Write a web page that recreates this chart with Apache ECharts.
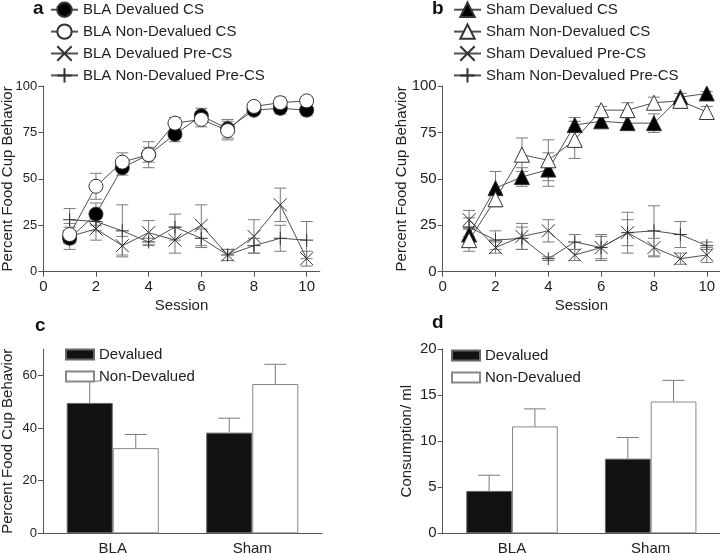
<!DOCTYPE html>
<html><head><meta charset="utf-8">
<script src="https://cdn.jsdelivr.net/npm/echarts@6/dist/echarts.min.js"></script>
<style>html,body{margin:0;padding:0;background:#fff}#c{width:720px;height:553px}</style>
</head><body><div id="c"></div>
<script>
// ---------- data ----------
const sessions = [1,2,3,4,5,6,7,8,9,10];
const sessionTicks = [0,2,4,6,8,10];
const pctTicks = [0,25,50,75,100];

const blaDevCS        = [18, 31, 56, 63, 74, 84, 77, 87, 88, 87];
const blaDevCSErr     = [3, 6, 4, 4, 4, 4, 5, 2, 3, 3];
const blaNonDevCS     = [20, 46, 59, 63, 80, 82, 76, 89, 91, 92];
const blaNonDevCSErr  = [4, 7, 5, 7, 3, 4, 5, 2, 3, 2];
const blaDevPre       = [19, 23, 14, 21, 17, 25, 9, 19, 36, 7];
const blaDevPreErr    = [7, 6, 5, 6.5, 7, 11, 3, 9, 9, 4];
const blaNonDevPre    = [28, 27, 22, 16, 24, 18, 9, 14, 18, 17];
const blaNonDevPreErr = [6, 5, 14, 2, 7, 5, 3, 4, 7, 10];

const shamDevCS        = [20, 45, 51, 55, 79, 81, 80, 80, 94, 96];
const shamDevCSErr     = [4, 9, 5, 9, 4, 2, 3, 5, 2, 1];
const shamNonDevCS     = [17, 39, 63, 60, 71, 87, 87, 91, 92, 86];
const shamNonDevCSErr  = [6, 4, 9, 11, 10, 2, 4, 3, 4, 3];
const shamDevPre       = [28, 13, 19, 22, 9, 13, 21, 13, 7, 9];
const shamDevPreErr    = [5, 3, 7, 6, 3, 7, 11, 5, 3, 4];
const shamNonDevPre    = [24, 17, 18, 7, 16, 13, 21, 22, 20, 14];
const shamNonDevPreErr = [5, 5, 6, 1, 4, 6, 7, 13.5, 7, 2];

const groups = ['BLA', 'Sham'];
const foodDev = [49.6, 38.3];
const foodDevErr = [8.3, 5.5];
const foodNonDev = [32.4, 56.8];
const foodNonDevErr = [5.2, 7.5];
const consDev = [4.6, 8.1];
const consDevErr = [1.7, 2.3];
const consNonDev = [11.6, 14.3];
const consNonDevErr = [1.9, 2.3];
const foodTicks = [0,20,40,60];
const consTicks = [0,5,10,15,20];

// ---------- styles ----------
const FONT = '"Liberation Sans", Arial, sans-serif';
// narrow font for the squeezed tick labels of panels a and c (fallback: smaller regular font)
let NARROW = FONT, NARROW_SIZE = 13;
(function () {
  const cv = document.createElement('canvas').getContext('2d');
  cv.font = '15px "Liberation Sans Narrow", monospace';
  const wn = cv.measureText('100').width;
  cv.font = '15px monospace';
  const wm = cv.measureText('100').width;
  if (Math.abs(wn - wm) > 0.5) { NARROW = '"Liberation Sans Narrow", ' + FONT; NARROW_SIZE = 15; }
})();
const AX = '#555';
const TXT = '#222';
const ERR = '#7a7a7a';
const SYM_X = 'path://M0,0L10,10M10,0L0,10';
const SYM_P = 'path://M5,0L5,10M0,5L10,5';

function lineSeries(name, g, vals, symbol, fill, size) {
  return {
    name, type: 'line', xAxisIndex: g, yAxisIndex: g,
    data: sessions.map((s, i) => [s, vals[i]]),
    symbol, symbolSize: size, showAllSymbol: true,
    lineStyle: { color: '#505050', width: 1 },
    itemStyle: { color: fill, borderColor: '#333', borderWidth: 1 },
    emphasis: { disabled: true }, animation: false, z: 5
  };
}
function errSeries(g, vals, errs) {
  return {
    type: 'custom', xAxisIndex: g, yAxisIndex: g, silent: true, animation: false, z: 2,
    data: sessions.map((s, i) => [s, vals[i], errs[i]]),
    renderItem: function (p, api) {
      const x = api.value(0), y = api.value(1), e = api.value(2);
      const t = api.coord([x, y + e]), b = api.coord([x, y - e]);
      const w = 6;
      const st = { stroke: ERR, lineWidth: 1, fill: null };
      return { type: 'group', children: [
        { type: 'line', shape: { x1: t[0], y1: t[1], x2: b[0], y2: b[1] }, style: st },
        { type: 'line', shape: { x1: t[0]-w, y1: t[1], x2: t[0]+w, y2: t[1] }, style: st },
        { type: 'line', shape: { x1: b[0]-w, y1: b[1], x2: b[0]+w, y2: b[1] }, style: st }
      ]};
    }
  };
}
function barSeries(name, g, vals, fill, border) {
  return {
    name, type: 'bar', xAxisIndex: g, yAxisIndex: g, data: vals,
    barWidth: '33%', barGap: '0%',
    itemStyle: { color: fill, borderColor: border, borderWidth: 1 },
    emphasis: { disabled: true }, animation: false, z: 3
  };
}
function barErr(g, vals, errs, side) {
  return {
    type: 'custom', xAxisIndex: g, yAxisIndex: g, silent: true, animation: false, z: 2,
    data: vals.map((v, i) => [i, v, errs[i]]),
    renderItem: function (p, api) {
      const i = api.value(0), y = api.value(1), e = api.value(2);
      const bw = api.size([1, 0])[0];
      const off = side * bw * 0.33 / 2;
      const b = api.coord([i, y]), t = api.coord([i, y + e]);
      const x = b[0] + off, w = 11;
      const st = { stroke: ERR, lineWidth: 1, fill: null };
      return { type: 'group', children: [
        { type: 'line', shape: { x1: x, y1: b[1], x2: x, y2: t[1] }, style: st },
        { type: 'line', shape: { x1: x-w, y1: t[1], x2: x+w, y2: t[1] }, style: st }
      ]};
    }
  };
}

const axisCommon = {
  axisLine: { show: true, lineStyle: { color: AX, width: 1 } },
  splitLine: { show: false },
  nameMoveOverlap: false,
  nameTextStyle: { fontFamily: FONT, fontSize: 15, color: TXT }
};
function valX(g, name) {
  return Object.assign({}, axisCommon, {
    type: 'value', gridIndex: g, min: 0, max: 10.5, name, nameLocation: 'middle', nameGap: 27,
    axisTick: { show: true, length: 5, lineStyle: { color: AX }, customValues: sessionTicks },
    axisLabel: { fontFamily: FONT, fontSize: 15, color: TXT, margin: 8, customValues: sessionTicks }
  });
}
function valY(g, max, ticks, name, gap, font, size) {
  return Object.assign({}, axisCommon, {
    type: 'value', gridIndex: g, min: 0, max, name, nameLocation: 'middle', nameGap: gap,
    axisTick: { show: true, length: 5, lineStyle: { color: AX }, customValues: ticks },
    axisLabel: { fontFamily: font, fontSize: size, color: TXT, margin: 6, customValues: ticks }
  });
}
function catX(g) {
  return Object.assign({}, axisCommon, {
    type: 'category', gridIndex: g, data: groups,
    axisTick: { show: false },
    axisLabel: { fontFamily: FONT, fontSize: 15, color: TXT, margin: 8 }
  });
}
function lineLegend(left, names) {
  return {
    data: names, orient: 'vertical', left, top: 1.5, padding: 0,
    itemWidth: 27, itemHeight: 18, itemGap: 5.5, selectedMode: false,
    textStyle: { fontFamily: FONT, fontSize: 15, color: TXT }
  };
}
function barLegend(left, top) {
  return {
    data: ['Devalued', 'Non-Devalued'], orient: 'vertical', left, top, padding: 0,
    icon: 'rect', itemWidth: 28, itemHeight: 10, itemGap: 7, selectedMode: false,
    textStyle: { fontFamily: FONT, fontSize: 15, color: TXT }
  };
}
function panelLabel(t, left, top) {
  return { type: 'text', left, top, style: { text: t, fontFamily: FONT, fontSize: 19, fontWeight: 'bold', fill: '#111' } };
}

const option = {
  backgroundColor: '#fff',
  animation: false,
  grid: [
    { left: 43.3, top: 86, width: 276.5, height: 185.7, containLabel: false, outerBoundsMode: 'none' },
    { left: 442.7, top: 86, width: 277.3, height: 185.7, containLabel: false, outerBoundsMode: 'none' },
    { left: 43, top: 349.3, width: 279, height: 184, containLabel: false, outerBoundsMode: 'none' },
    { left: 442.7, top: 349, width: 277.3, height: 184.3, containLabel: false, outerBoundsMode: 'none' }
  ],
  xAxis: [ valX(0, 'Session'), valX(1, 'Session'), catX(2), catX(3) ],
  yAxis: [
    valY(0, 100, pctTicks, 'Percent Food Cup Behavior', 28, NARROW, NARROW_SIZE),
    valY(1, 100, pctTicks, 'Percent Food Cup Behavior', 33, FONT, 15),
    valY(2, 70, foodTicks, 'Percent Food Cup Behavior', 28, NARROW, NARROW_SIZE),
    valY(3, 20, consTicks, 'Consumption/ ml', 28, FONT, 15)
  ],
  legend: [
    lineLegend(50, ['BLA Devalued CS', 'BLA Non-Devalued CS', 'BLA Devalued Pre-CS', 'BLA Non-Devalued Pre-CS']),
    lineLegend(453, ['Sham Devalued CS', 'Sham Non-Devalued CS', 'Sham Devalued Pre-CS', 'Sham Non-Devalued Pre-CS']),
    barLegend(65, 347),
    barLegend(451, 348)
  ],
  graphic: [
    panelLabel('a', 33, -1), panelLabel('b', 432, -1),
    panelLabel('c', 35, 316), panelLabel('d', 432, 313)
  ],
  series: [
    errSeries(0, blaDevCS, blaDevCSErr), errSeries(0, blaNonDevCS, blaNonDevCSErr),
    errSeries(0, blaDevPre, blaDevPreErr), errSeries(0, blaNonDevPre, blaNonDevPreErr),
    lineSeries('BLA Devalued Pre-CS', 0, blaDevPre, SYM_X, '#333', 13),
    lineSeries('BLA Non-Devalued Pre-CS', 0, blaNonDevPre, SYM_P, '#333', 13),
    lineSeries('BLA Devalued CS', 0, blaDevCS, 'circle', '#000', 14),
    lineSeries('BLA Non-Devalued CS', 0, blaNonDevCS, 'circle', '#fff', 14),

    errSeries(1, shamDevCS, shamDevCSErr), errSeries(1, shamNonDevCS, shamNonDevCSErr),
    errSeries(1, shamDevPre, shamDevPreErr), errSeries(1, shamNonDevPre, shamNonDevPreErr),
    lineSeries('Sham Devalued Pre-CS', 1, shamDevPre, SYM_X, '#333', 13),
    lineSeries('Sham Non-Devalued Pre-CS', 1, shamNonDevPre, SYM_P, '#333', 13),
    lineSeries('Sham Devalued CS', 1, shamDevCS, 'triangle', '#000', 15),
    lineSeries('Sham Non-Devalued CS', 1, shamNonDevCS, 'triangle', '#fff', 15),

    barErr(2, foodDev, foodDevErr, -1), barErr(2, foodNonDev, foodNonDevErr, 1),
    barSeries('Devalued', 2, foodDev, '#111', '#666'),
    barSeries('Non-Devalued', 2, foodNonDev, '#fff', '#888'),
    barErr(3, consDev, consDevErr, -1), barErr(3, consNonDev, consNonDevErr, 1),
    barSeries('Devalued', 3, consDev, '#111', '#666'),
    barSeries('Non-Devalued', 3, consNonDev, '#fff', '#888')
  ]
};
const chart = echarts.init(document.getElementById('c'), null, { renderer: 'canvas' });
chart.setOption(option);
</script></body></html>
